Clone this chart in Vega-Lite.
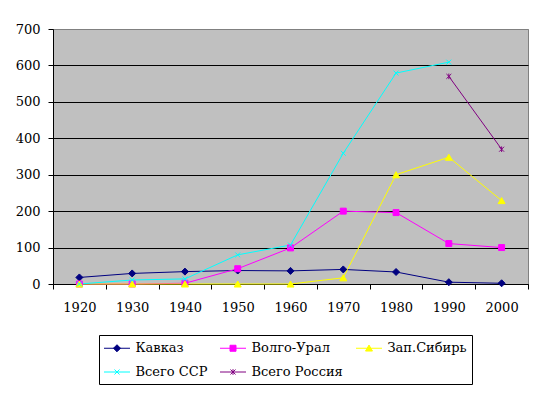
{
  "$schema": "https://vega.github.io/schema/vega-lite/v6.json",
  "width": 475,
  "height": 255,
  "autosize": {"type": "none"},
  "padding": {"left": 53, "top": 29, "right": 16, "bottom": 110},
  "background": "white",
  "config": {
    "view": {"fill": "#C0C0C0", "stroke": "#808080", "strokeWidth": 1},
    "font": "DejaVu Serif",
    "axis": {"labelFont": "DejaVu Serif", "labelFontSize": 13, "labelColor": "black", "domainColor": "black", "tickColor": "black", "title": null},
    "legend": {"labelFont": "DejaVu Serif"}
  },
  "data": {
    "values": [
      {"year": "1920", "series": "Кавказ", "value": 18},
      {"year": "1930", "series": "Кавказ", "value": 29},
      {"year": "1940", "series": "Кавказ", "value": 34},
      {"year": "1950", "series": "Кавказ", "value": 37},
      {"year": "1960", "series": "Кавказ", "value": 36},
      {"year": "1970", "series": "Кавказ", "value": 40},
      {"year": "1980", "series": "Кавказ", "value": 33},
      {"year": "1990", "series": "Кавказ", "value": 5},
      {"year": "2000", "series": "Кавказ", "value": 2},
      {"year": "1920", "series": "Волго-Урал", "value": 0},
      {"year": "1930", "series": "Волго-Урал", "value": 0},
      {"year": "1940", "series": "Волго-Урал", "value": 2},
      {"year": "1950", "series": "Волго-Урал", "value": 42},
      {"year": "1960", "series": "Волго-Урал", "value": 99},
      {"year": "1970", "series": "Волго-Урал", "value": 200},
      {"year": "1980", "series": "Волго-Урал", "value": 196},
      {"year": "1990", "series": "Волго-Урал", "value": 111},
      {"year": "2000", "series": "Волго-Урал", "value": 100},
      {"year": "1920", "series": "Зап.Сибирь", "value": 0},
      {"year": "1930", "series": "Зап.Сибирь", "value": 0},
      {"year": "1940", "series": "Зап.Сибирь", "value": 0},
      {"year": "1950", "series": "Зап.Сибирь", "value": 0},
      {"year": "1960", "series": "Зап.Сибирь", "value": 0},
      {"year": "1970", "series": "Зап.Сибирь", "value": 17},
      {"year": "1980", "series": "Зап.Сибирь", "value": 300},
      {"year": "1990", "series": "Зап.Сибирь", "value": 348},
      {"year": "2000", "series": "Зап.Сибирь", "value": 229},
      {"year": "1920", "series": "Всего ССР", "value": 0},
      {"year": "1930", "series": "Всего ССР", "value": 11},
      {"year": "1940", "series": "Всего ССР", "value": 14},
      {"year": "1950", "series": "Всего ССР", "value": 80},
      {"year": "1960", "series": "Всего ССР", "value": 107},
      {"year": "1970", "series": "Всего ССР", "value": 359},
      {"year": "1980", "series": "Всего ССР", "value": 579},
      {"year": "1990", "series": "Всего ССР", "value": 609},
      {"year": "1990", "series": "Всего Россия", "value": 570},
      {"year": "2000", "series": "Всего Россия", "value": 370}
    ]
  },
  "encoding": {
    "x": {
      "field": "year",
      "type": "ordinal",
      "scale": {"type": "band", "paddingInner": 0, "paddingOuter": 0},
      "axis": {"labelAngle": 0, "tickBand": "extent", "tickSize": 5, "labelPadding": 12, "domain": true, "title": null}
    },
    "y": {
      "field": "value",
      "type": "quantitative",
      "scale": {"domain": [0, 700], "nice": false},
      "axis": {
        "values": [0, 100, 200, 300, 400, 500, 600, 700],
        "grid": true,
        "gridColor": {"condition": {"test": "datum.value == 700", "value": "#808080"}, "value": "black"},
        "gridOpacity": 1,
        "tickSize": 5,
        "labelPadding": 8,
        "domain": true,
        "title": null
      }
    }
  },
  "layer": [
    {
      "mark": {"type": "line", "strokeWidth": 1},
      "encoding": {
        "color": {
          "field": "series",
          "type": "nominal",
          "scale": {
            "domain": ["Кавказ", "Волго-Урал", "Зап.Сибирь", "Всего ССР", "Всего Россия"],
            "range": ["#000080", "#FF00FF", "#FFFF00", "#00FFFF", "#800080"]
          },
          "legend": {
            "orient": "none",
            "direction": "horizontal",
            "legendX": 46,
            "legendY": 306,
            "columns": 3,
            "gridAlign": "each",
            "columnPadding": 10,
            "rowPadding": 8,
            "padding": 4.5,
            "strokeColor": "black",
            "fillColor": "white",
            "title": null,
            "labelFont": "DejaVu Serif",
            "labelFontSize": 13,
            "labelColor": "black",
            "labelOffset": 15,
            "symbolSize": 256,
            "symbolStrokeWidth": 1,
            "encode": {
              "symbols": {
                "update": {
                  "shape": {"signal": "datum.value === 'Кавказ' ? 'M-1,0L2.25,0M0.625,-0.44L1.065,0L0.625,0.44L0.185,0Z' : datum.value === 'Волго-Урал' ? 'M-1,0L2.25,0M0.25,-0.375L1,-0.375L1,0.375L0.25,0.375Z' : datum.value === 'Зап.Сибирь' ? 'M-1,0L2.25,0M0.625,-0.4L1.06,0.35L0.19,0.35Z' : datum.value === 'Всего ССР' ? 'M-1,0L2.25,0M0.31,-0.31L0.94,0.31M0.94,-0.31L0.31,0.31' : 'M-1,0L2.25,0M0.31,-0.31L0.94,0.31M0.94,-0.31L0.31,0.31M0.625,-0.36L0.625,0.36'"},
                  "fill": {"signal": "datum.value === 'Кавказ' ? '#000080' : datum.value === 'Волго-Урал' ? '#FF00FF' : datum.value === 'Зап.Сибирь' ? '#FFFF00' : datum.value === 'Всего ССР' ? '#00FFFF' : '#800080'"},
                  "stroke": {"signal": "datum.value === 'Кавказ' ? '#000080' : datum.value === 'Волго-Урал' ? '#FF00FF' : datum.value === 'Зап.Сибирь' ? '#FFFF00' : datum.value === 'Всего ССР' ? '#00FFFF' : '#800080'"},
                  "strokeWidth": {"value": 1},
                  "opacity": {"value": 1}
                }
              }
            }
          }
        }
      }
    },
    {
      "transform": [{"filter": "datum.series === 'Кавказ'"}],
      "mark": {"type": "point", "shape": "diamond", "filled": true, "fill": "#000080", "stroke": "#000080", "strokeWidth": 1, "opacity": 1, "size": 49}
    },
    {
      "transform": [{"filter": "datum.series === 'Волго-Урал'"}],
      "mark": {"type": "point", "shape": "M-0.85,-0.85L0.85,-0.85L0.85,0.85L-0.85,0.85Z", "filled": true, "fill": "#FF00FF", "stroke": "#FF00FF", "strokeWidth": 1, "opacity": 1, "size": 49}
    },
    {
      "transform": [{"filter": "datum.series === 'Зап.Сибирь'"}],
      "mark": {"type": "point", "shape": "triangle-up", "filled": true, "fill": "#FFFF00", "stroke": "#FFFF00", "strokeWidth": 1, "opacity": 1, "size": 49}
    },
    {
      "transform": [{"filter": "datum.series === 'Всего ССР'"}],
      "mark": {"type": "point", "shape": "M-0.7,-0.7L0.7,0.7M0.7,-0.7L-0.7,0.7", "filled": false, "stroke": "#00FFFF", "strokeWidth": 1, "opacity": 1, "size": 49}
    },
    {
      "transform": [{"filter": "datum.series === 'Всего Россия'"}],
      "mark": {"type": "point", "shape": "M-0.7,-0.7L0.7,0.7M0.7,-0.7L-0.7,0.7M0,-0.8L0,0.8", "filled": false, "stroke": "#800080", "strokeWidth": 1, "opacity": 1, "size": 49}
    }
  ]
}
